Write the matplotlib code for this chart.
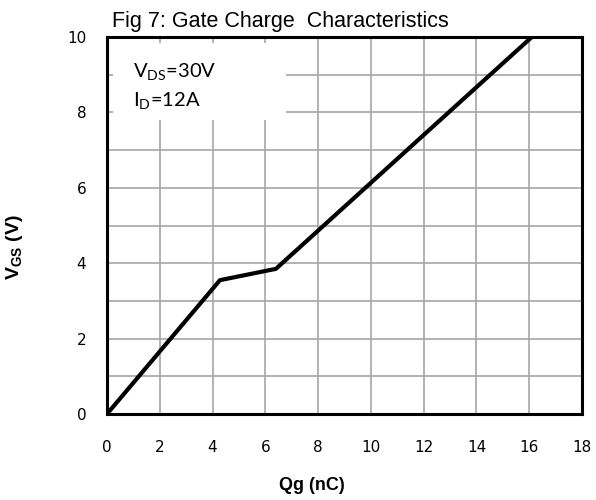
import numpy as np
import matplotlib.pyplot as plt
from matplotlib.patches import Rectangle

plt.rcParams['mathtext.fontset'] = 'custom'
plt.rcParams['mathtext.rm'] = 'Lato'
plt.rcParams['mathtext.bf'] = 'Liberation Sans:bold'

# gate charge curve
qg = [0, 4.28, 6.4, 16.1]
vgs = [0, 3.55, 3.85, 10]

x_ticks = [0, 2, 4, 6, 8, 10, 12, 14, 16, 18]
y_ticks = [0, 2, 4, 6, 8, 10]

fig = plt.figure(figsize=(5.96, 5.0), dpi=100)
ax = fig.add_axes([107 / 596, 86 / 500, 475 / 596, 377 / 500])

ax.set_xlim(0, 18)
ax.set_ylim(0, 10)
ax.set_xticks(x_ticks)
ax.set_yticks(y_ticks)
ax.set_yticks(np.arange(1, 11, 2), minor=True)
ax.grid(which='both', color='#a6a6a6', linewidth=1.2, zorder=1)
ax.tick_params(which='both', length=0)
ax.tick_params(axis='x', pad=19, labelsize=11)
ax.tick_params(axis='y', pad=15, labelsize=11)

for s in ax.spines.values():
    s.set_linewidth(2.2)
    s.set_zorder(5)

# white box behind the conditions text
ax.add_patch(Rectangle((0.23, 7.8), 6.55, 2.04, facecolor='white',
                       edgecolor='none', zorder=2))
ax.text(1.0, 8.95, r'$\mathrm{V_{DS}}$=30V', fontsize=14.5, family='Lato', zorder=3)
ax.text(1.0, 8.17, r'$\mathrm{I_{D}}$=12A', fontsize=14.5, family='Lato', zorder=3)

ax.plot(qg, vgs, color='black', linewidth=3, zorder=4, solid_capstyle='butt')

ax.set_xlabel('Qg (nC)', fontsize=13, fontweight='bold', family='Liberation Sans')
ax.set_ylabel(r'$\mathbf{V_{GS}}$ (V)', fontsize=14, fontweight='bold',
              family='Liberation Sans')
ax.xaxis.set_label_coords(0.432, -0.168)
ax.yaxis.set_label_coords(-0.173, 0.443)

fig.text(112 / 596, 1 - 27 / 500, 'Fig 7: Gate Charge  Characteristics',
         fontsize=15.5, family='Liberation Sans', ha='left', va='baseline')

fig.savefig('out.png', dpi=100)
